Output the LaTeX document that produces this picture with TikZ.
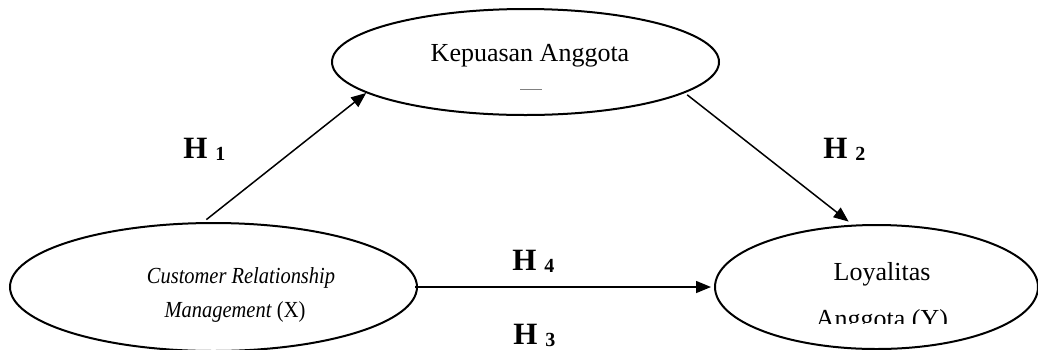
\documentclass[tikz,border=0pt]{standalone}
\usepackage{fontspec}
\setmainfont{Liberation Serif}
\usetikzlibrary{shapes.geometric,arrows.meta}
\begin{document}
\begin{tikzpicture}[x=0.5pt,y=-0.5pt,
  var/.style={draw,ellipse,line width=1pt,inner sep=0pt},
  link/.style={line width=0.75pt,-{Triangle[length=7.5pt,width=6pt]}},
  txt/.style={font=\fontsize{13}{15}\selectfont,inner sep=0pt,anchor=base},
  hyp/.style={font=\fontsize{15.5}{18}\selectfont\bfseries,inner sep=0pt,anchor=base west}]
\useasboundingbox (0,0) rectangle (1038,349);
\fill[white] (0,0) rectangle (1038,349);

% variables
\node[var,minimum width=193.5pt,minimum height=53pt] (kep) at (525.5,62) {};
\node[var,minimum width=203.5pt,minimum height=64pt] (crm) at (213.5,287) {};
\node[var,minimum width=161.5pt,minimum height=62pt] (loy) at (876.5,287) {};

% variable names
\newcommand{\narrow}[1]{\scalebox{0.89}[1]{\fontsize{11.5}{14}\selectfont #1}}
\node[txt] (kepname) at (530,61) {Kepuasan Anggota};
\draw[gray,line width=0.4pt] (520,89) -- (542,89);
\node[txt] (crmname1) at (241,283) {\narrow{\itshape Customer Relationship}};
\node[txt] (crmname2) at (235,317) {\narrow{\textit{Management} (X)}};
\node[txt] (loyname1) at (882,280) {Loyalitas};
\begin{scope}
  \clip (700,290) rectangle (1038,323);
  \node[txt] (loyname2) at (882,327) {Anggota (Y)};
\end{scope}

% paths
\draw[link,shorten <=2pt] (crm.99.7) -- (kep.191.85);
\draw[link,shorten <=1.5pt,shorten >=2.5pt] (kep.-11.3) -- (loy.111.6);
\draw[link,shorten <=-1.5pt,shorten >=1.5pt] (crm.east) -- (loy.west);

% hypothesis labels
\newcommand{\hsub}[1]{{\fontsize{10}{11}\selectfont\raisebox{-1pt}{#1}}}
\node[hyp] (h1) at (183,158) {H \hsub{1}};
\node[hyp] (h2) at (823,158) {H \hsub{2}};
\node[hyp] (h4) at (512,270) {H \hsub{4}};
\node[hyp] (h3) at (513,344) {H \hsub{3}};
\end{tikzpicture}
\end{document}
